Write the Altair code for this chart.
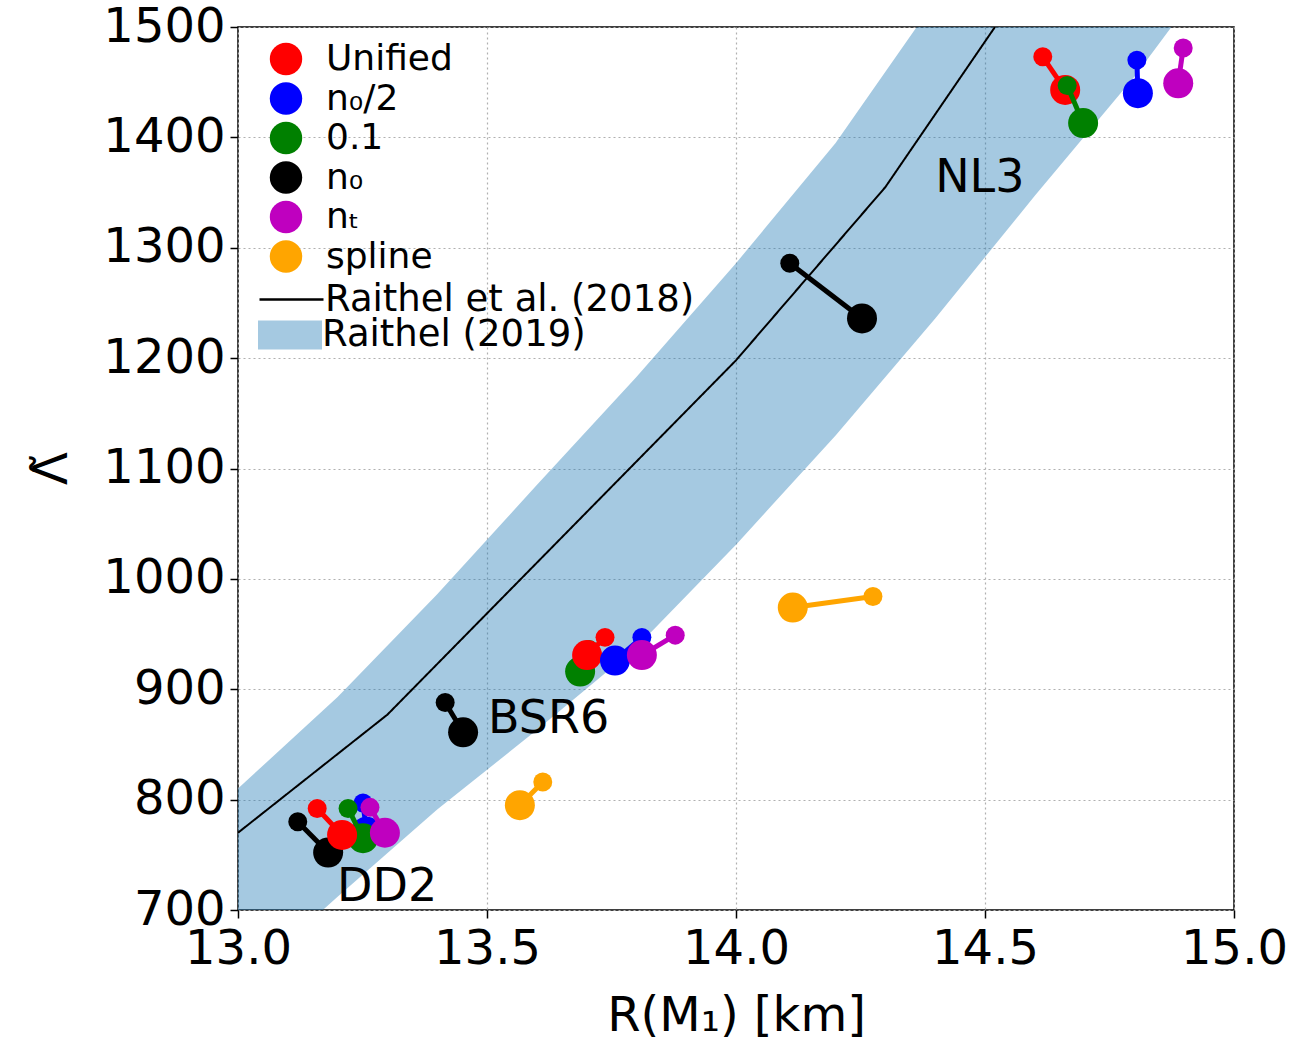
import altair as alt
import pandas as pd

# ---------------- data ----------------
models = ["Unified", "n₀/2", "0.1", "n₀", "nₜ", "spline"]
model_colors = ["#ff0000", "#0000ff", "#008000", "#000000", "#bf00bf", "#ffa500"]

# one row per connected pair (small dot -> big dot)
pair_eos = ["DD2", "DD2", "DD2", "DD2", "DD2",
            "mid", "mid", "mid", "mid",
            "BSR6",
            "NL3", "NL3", "NL3", "NL3", "NL3",
            "spline-a", "spline-b"]
pair_model = ["n₀", "n₀/2", "0.1", "Unified", "nₜ",
              "0.1", "Unified", "n₀/2", "nₜ",
              "n₀",
              "n₀", "Unified", "0.1", "n₀/2", "nₜ",
              "spline", "spline"]
R_small = [13.120, 13.251, 13.221, 13.159, 13.265,
           13.705, 13.737, 13.811, 13.878,
           13.416,
           14.108, 14.616, 14.665, 14.805, 14.898,
           13.612, 14.275]
L_small = [780, 797, 792, 792, 793,
           936, 947, 947, 949,
           888,
           1286, 1473, 1447, 1470, 1481,
           816, 984]
R_big = [13.181, 13.258, 13.251, 13.209, 13.295,
         13.687, 13.701, 13.757, 13.811,
         13.452,
         14.253, 14.661, 14.697, 14.807, 14.888,
         13.566, 14.114]
L_big = [752, 771, 765, 768, 770,
         916, 931, 926, 931,
         861,
         1236, 1443, 1413, 1440, 1449,
         795, 974]
draw_level = [0, 1, 2, 3, 4,
              0, 1, 2, 3,
              0,
              0, 1, 2, 3, 4,
              0, 0]

# Raithel et al. (2018) fit line
line_R = [13.0, 13.3, 14.0, 14.3, 14.52]
line_L = [770, 877, 1198, 1355, 1500]

# Raithel (2019) band
band_R = [13.0, 13.2, 13.4, 13.6, 13.8, 14.0, 14.2, 14.4, 14.6, 14.8, 15.0]
band_hi = [810, 893, 986, 1085, 1183, 1286, 1395, 1524, 1650, 1780, 1910]
band_lo = [631, 712, 791, 863, 938, 1031, 1130, 1236, 1347, 1455, 1576]

# EOS labels
label_text = ["DD2", "BSR6", "NL3"]
label_R = [13.199, 13.502, 14.400]
label_L = [721, 873, 1363]

x_ticks = [13.0, 13.5, 14.0, 14.5, 15.0]
y_ticks = [700, 800, 900, 1000, 1100, 1200, 1300, 1400, 1500]

# ---------------- tables ----------------
pairs = pd.DataFrame({"eos": pair_eos, "model": pair_model, "Rs": R_small,
                      "Ls": L_small, "Rb": R_big, "Lb": L_big, "z": draw_level})
pairs["link"] = pairs["model"]
line_df = pd.DataFrame({"R": line_R, "L": line_L, "lab": "Raithel et al. (2018)"})
band_df = pd.DataFrame({"R": band_R, "lo": band_lo, "hi": band_hi, "lab": "Raithel (2019)"})
lab_df = pd.DataFrame({"t": label_text, "R": label_R, "L": label_L})

FONT = "DejaVu Sans"
xs = alt.Scale(domain=[13, 15], nice=False, zero=False)
ys = alt.Scale(domain=[700, 1500], nice=False, zero=False)
xaxis = alt.Axis(title="R(M₁) [km]", values=x_ticks, format=".1f", labelFlush=False,
                 labelPadding=7, titleY=120, titleBaseline="alphabetic")
yaxis = alt.Axis(title="Λ̃", values=y_ticks, format="d", labelFlush=False,
                 titleX=-186, titleY=441, titleAngle=270,
                 titleBaseline="middle", titleAlign="center")


def X(f):
    return alt.X(f, type="quantitative", scale=xs, axis=xaxis)


def Y(f):
    return alt.Y(f, type="quantitative", scale=ys, axis=yaxis)


color_scale = alt.Scale(domain=models, range=model_colors)
# connector scale: same colours, domain listed in another order so that its
# (hidden) legend is not merged with the marker legend
link_scale = alt.Scale(domain=models[::-1], range=model_colors[::-1])
color_legend = alt.Legend(title=None, orient="none", legendX=30, legendY=14,
                          symbolType="circle", symbolSize=1050, symbolStrokeWidth=0,
                          symbolOpacity=1, labelFontSize=36, labelFont=FONT,
                          labelOffset=22, rowPadding=3.5, padding=0,
                          labelColor="black")

band = alt.Chart(band_df).mark_area(clip=True, fillOpacity=0.4).encode(
    x=X("R"), y=Y("lo"), y2="hi",
    fill=alt.Fill("lab:N", scale=alt.Scale(domain=["Raithel (2019)"], range=["#1f77b4"]),
                  legend=alt.Legend(title=None, orient="none", legendX=20, legendY=276,
                                    symbolType="M-1,-0.45H1V0.45H-1Z", symbolSize=4096,
                                    symbolOpacity=0.4, symbolStrokeWidth=0,
                                    labelFontSize=37, labelFont=FONT, labelOffset=0,
                                    padding=0, labelColor="black"))
)

line = alt.Chart(line_df).mark_line(color="black", strokeWidth=2, clip=True).encode(
    x=X("R"), y=Y("L"),
    strokeDash=alt.StrokeDash("lab:N", scale=alt.Scale(domain=["Raithel et al. (2018)"], range=[[1, 0]]),
                              legend=alt.Legend(title=None, orient="none", legendX=20, legendY=239,
                                                symbolType="M-1,0H1", symbolSize=4096,
                                                symbolStrokeColor="black", symbolStrokeWidth=2.5,
                                                labelFontSize=37, labelFont=FONT, labelOffset=0,
                                                padding=0, labelColor="black"))
)

layers = [band, line]
base = alt.Chart(pairs)
for z in range(5):
    sub = base.transform_filter(alt.datum.z == z)
    layers.append(sub.mark_rule(strokeWidth=5).encode(
        x=X("Rs"), y=Y("Ls"), x2="Rb", y2="Lb",
        stroke=alt.Stroke("link:N", scale=link_scale, legend=None)))
    layers.append(sub.mark_circle(size=360, opacity=1).encode(
        x=X("Rs"), y=Y("Ls"),
        color=alt.Color("model:N", scale=color_scale, legend=color_legend)))
    layers.append(sub.mark_circle(size=900, opacity=1).encode(
        x=X("Rb"), y=Y("Lb"),
        color=alt.Color("model:N", scale=color_scale, legend=color_legend)))

texts = alt.Chart(lab_df).mark_text(align="left", baseline="middle", fontSize=46,
                                    font=FONT, color="black").encode(
    x=X("R"), y=Y("L"), text="t:N")
layers.append(texts)

chart = alt.layer(*layers).properties(
    width=996, height=883,
    autosize=alt.AutoSizeParams(type="none"),
    padding={"left": 238, "top": 27, "right": 57, "bottom": 134},
    background="white",
).configure_view(
    stroke="black", strokeWidth=1.5
).configure_axis(
    domain=False, grid=True, gridColor="#b0b0b0", gridDash=[2, 3], gridWidth=1.2,
    ticks=True, tickSize=8, tickWidth=1.5, tickColor="black",
    labelFont=FONT, labelFontSize=48, labelColor="black", labelPadding=5,
    titleFont=FONT, titleFontSize=48, titleFontWeight="normal", titleColor="black",
).configure_legend(
    labelLimit=0
)

chart.save("out.html", embed_options={"renderer": "svg", "actions": False})
